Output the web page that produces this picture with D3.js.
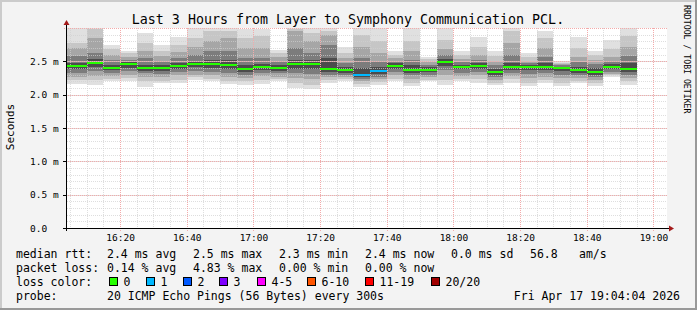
<!DOCTYPE html>
<html>
<head>
<meta charset="utf-8">
<script src="https://cdn.jsdelivr.net/npm/d3@7"></script>
<style>
  body { margin: 0; background: #f3f3f3; }
  svg { display: block; }
  text { font-family: "DejaVu Sans Mono", monospace; fill: #000; }
</style>
</head>
<body>
<div id="chart"></div>
<script>
// chart data
const title = "Last 3 Hours from Layer to Symphony Communication PCL.";
const slotEnd = ["16:05", "16:10", "16:15", "16:20", "16:25", "16:30", "16:35",
  "16:40", "16:45", "16:50", "16:55", "17:00", "17:05", "17:10", "17:15", "17:20",
  "17:25", "17:30", "17:35", "17:40", "17:45", "17:50", "17:55", "18:00", "18:05",
  "18:10", "18:15", "18:20", "18:25", "18:30", "18:35", "18:40", "18:45", "18:50", "18:55"];
const median = [2.43, 2.43, 2.48, 2.405, 2.46, 2.405, 2.405, 2.435, 2.46, 2.46, 2.45,
  2.39, 2.42, 2.405, 2.46, 2.46, 2.39, 2.37, 2.30, 2.36, 2.435, 2.375, 2.375, 2.495,
  2.42, 2.435, 2.345, 2.42, 2.42, 2.42, 2.40, 2.375, 2.345, 2.42, 2.39];
const lossCount = [0, 0, 0, 0, 0, 0, 0, 0, 0, 0, 0, 0, 0, 0, 0, 0, 0, 0, 1, 1, 0, 0,
  0, 0, 0, 0, 0, 0, 0, 0, 0, 0, 0, 0, 0];
// sorted pings of each slot: min, 3rd, 5th, 7th, 9th, 12th, 14th, 16th, 18th, max
const smoke = [
  [2.16, 2.22, 2.27, 2.33, 2.38, 2.47, 2.58, 2.70, 2.78, 3.00],
  [2.16, 2.22, 2.27, 2.33, 2.38, 2.47, 2.58, 2.70, 2.78, 3.00],
  [2.15, 2.22, 2.28, 2.35, 2.42, 2.53, 2.62, 2.85, 2.98, 3.00],
  [2.20, 2.24, 2.28, 2.33, 2.37, 2.45, 2.52, 2.60, 2.68, 2.75],
  [2.20, 2.25, 2.30, 2.35, 2.40, 2.49, 2.52, 2.57, 2.62, 2.66],
  [2.12, 2.20, 2.27, 2.32, 2.36, 2.45, 2.55, 2.66, 2.78, 2.92],
  [2.17, 2.21, 2.26, 2.31, 2.36, 2.45, 2.50, 2.58, 2.66, 2.75],
  [2.17, 2.22, 2.29, 2.34, 2.39, 2.48, 2.55, 2.64, 2.75, 2.87],
  [2.22, 2.26, 2.30, 2.35, 2.41, 2.50, 2.60, 2.72, 2.85, 3.00],
  [2.20, 2.24, 2.29, 2.34, 2.40, 2.52, 2.65, 2.80, 2.95, 3.00],
  [2.16, 2.21, 2.27, 2.33, 2.39, 2.52, 2.65, 2.85, 2.95, 3.00],
  [2.14, 2.20, 2.25, 2.30, 2.34, 2.45, 2.55, 2.70, 2.85, 2.99],
  [2.16, 2.22, 2.28, 2.33, 2.37, 2.46, 2.55, 2.70, 2.88, 2.98],
  [2.20, 2.23, 2.27, 2.32, 2.36, 2.45, 2.50, 2.56, 2.62, 2.67],
  [2.10, 2.17, 2.25, 2.32, 2.38, 2.52, 2.70, 2.95, 2.99, 3.00],
  [2.08, 2.15, 2.24, 2.31, 2.38, 2.52, 2.62, 2.80, 2.92, 3.00],
  [2.18, 2.22, 2.26, 2.30, 2.34, 2.55, 2.75, 2.90, 2.95, 3.00],
  [2.20, 2.23, 2.26, 2.30, 2.33, 2.42, 2.48, 2.55, 2.62, 2.72],
  [2.12, 2.16, 2.20, 2.24, 2.27, 2.40, 2.55, 2.72, 2.90, 3.00],
  [2.14, 2.19, 2.23, 2.27, 2.31, 2.42, 2.50, 2.62, 2.80, 3.00],
  [2.20, 2.24, 2.29, 2.34, 2.39, 2.47, 2.50, 2.55, 2.60, 2.65],
  [2.13, 2.18, 2.24, 2.29, 2.33, 2.44, 2.52, 2.65, 2.80, 3.00],
  [2.20, 2.22, 2.26, 2.30, 2.34, 2.41, 2.45, 2.49, 2.53, 2.57],
  [2.15, 2.22, 2.30, 2.37, 2.43, 2.54, 2.60, 2.68, 2.82, 3.00],
  [2.20, 2.24, 2.28, 2.33, 2.38, 2.45, 2.49, 2.54, 2.60, 2.65],
  [2.17, 2.23, 2.29, 2.34, 2.39, 2.47, 2.52, 2.60, 2.72, 2.87],
  [2.15, 2.18, 2.22, 2.26, 2.30, 2.39, 2.44, 2.50, 2.58, 2.65],
  [2.18, 2.23, 2.28, 2.33, 2.37, 2.48, 2.60, 2.78, 2.95, 3.00],
  [2.13, 2.18, 2.25, 2.31, 2.37, 2.44, 2.47, 2.51, 2.56, 2.62],
  [2.17, 2.22, 2.27, 2.32, 2.37, 2.47, 2.56, 2.70, 2.85, 2.95],
  [2.13, 2.18, 2.25, 2.30, 2.35, 2.42, 2.44, 2.46, 2.48, 2.50],
  [2.17, 2.21, 2.25, 2.29, 2.33, 2.42, 2.49, 2.57, 2.70, 2.87],
  [2.13, 2.17, 2.22, 2.26, 2.30, 2.40, 2.46, 2.52, 2.60, 2.65],
  [2.27, 2.29, 2.31, 2.34, 2.38, 2.46, 2.50, 2.56, 2.68, 2.82],
  [2.15, 2.20, 2.25, 2.30, 2.34, 2.47, 2.58, 2.72, 2.88, 3.00]
];
const yTicks = [0, 0.5, 1.0, 1.5, 2.0, 2.5];
const yTickLabels = ["0.0", "0.5 m", "1.0 m", "1.5 m", "2.0 m", "2.5 m"];
const lossLabels = ["0", "1", "2", "3", "4-5", "6-10", "11-19", "20/20"];
const lossColors = ["#26ff00", "#00b8ff", "#0059ff", "#7e00ff", "#ff00ff", "#ff5500", "#ff0000", "#a10000"];
const smokeShades = ["#e0e0e0", "#c6c6c6", "#a6a6a6", "#7c7c7c", "#4c4c4c"];
const rttStats = [["median rtt:", 16], ["2.4 ms avg", 107], ["2.5 ms max", 193],
  ["2.3 ms min", 279], ["2.4 ms now", 365], ["0.0 ms sd", 451], ["56.8", 530], ["am/s", 579]];
const lossStats = [["packet loss:", 16], ["0.14 % avg", 107], ["4.83 % max", 193],
  ["0.00 % min", 279], ["0.00 % now", 365]];

const w = 697;
const h = 310;
const plot = { left: 67, right: 667, top: 28, bottom: 228 };

const svg = d3.select("#chart").append("svg").attr("width", w).attr("height", h);

// frame
svg.append("rect").attr("width", w).attr("height", h).attr("fill", "#f3f3f3");
svg.append("path").attr("d", `M0,${h}V0H${w}`).attr("fill", "none")
  .attr("stroke", "#cbcbcb").attr("stroke-width", 4);
svg.append("path").attr("d", `M0,${h}H${w}V0`).attr("fill", "none")
  .attr("stroke", "#999999").attr("stroke-width", 4);

// scales
const parseTime = d3.timeParse("%Y-%m-%d %H:%M:%S");
const start = parseTime("2026-04-17 16:04:04");
const end = parseTime("2026-04-17 19:04:04");
const x = d3.scaleTime().domain([start, end]).range([plot.left, plot.right]);
const y = d3.scaleLinear().domain([0, 3]).range([plot.bottom, plot.top]);

const slots = slotEnd.map((t, i) => {
  const t1 = parseTime("2026-04-17 " + t + ":00");
  return { t0: d3.timeMinute.offset(t1, -5), t1: t1, med: median[i], loss: lossCount[i], p: smoke[i] };
});

function lossIndex(n) {
  if (n <= 3) return n;
  if (n <= 5) return 4;
  if (n <= 10) return 5;
  if (n <= 19) return 6;
  return 7;
}

svg.append("rect")
  .attr("x", plot.left).attr("y", plot.top)
  .attr("width", plot.right - plot.left).attr("height", plot.bottom - plot.top)
  .attr("fill", "#ffffff");

svg.append("clipPath").attr("id", "clip").append("rect")
  .attr("x", plot.left).attr("y", plot.top)
  .attr("width", plot.right - plot.left).attr("height", plot.bottom - plot.top);

// smoke bands, outer pair first
const smokeG = svg.append("g").attr("clip-path", "url(#clip)").attr("shape-rendering", "crispEdges");
smokeShades.forEach((shade, k) => {
  smokeG.append("g").selectAll("rect")
    .data(slots)
    .join("rect")
    .attr("x", d => x(d.t0))
    .attr("width", d => x(d.t1) - x(d.t0))
    .attr("y", d => y(d.p[9 - k]))
    .attr("height", d => y(d.p[k]) - y(d.p[9 - k]))
    .attr("fill", shade);
});

// grid
const grid = svg.append("g").attr("shape-rendering", "crispEdges");
const minorX = d3.timeMinute.every(5).range(start, end);
const majorX = d3.timeMinute.every(20).range(start, end);
const minorY = d3.range(1, 30).map(v => v / 10);
const majorY = [0.5, 1.0, 1.5, 2.0, 2.5, 3.0];

grid.selectAll(".minx").data(minorX).join("line")
  .attr("x1", d => Math.round(x(d)) + 0.5).attr("x2", d => Math.round(x(d)) + 0.5)
  .attr("y1", plot.top).attr("y2", plot.bottom)
  .attr("stroke", "#d0d0d0").attr("stroke-opacity", 0.7).attr("stroke-dasharray", "1,1");
grid.selectAll(".miny").data(minorY).join("line")
  .attr("x1", plot.left).attr("x2", plot.right)
  .attr("y1", d => Math.round(y(d)) + 0.5).attr("y2", d => Math.round(y(d)) + 0.5)
  .attr("stroke", "#d0d0d0").attr("stroke-opacity", 0.7).attr("stroke-dasharray", "1,1");
grid.selectAll(".majx").data(majorX).join("line")
  .attr("x1", d => Math.round(x(d)) + 0.5).attr("x2", d => Math.round(x(d)) + 0.5)
  .attr("y1", plot.top).attr("y2", plot.bottom + 3)
  .attr("stroke", "#f3aaaa").attr("stroke-dasharray", "1,1");
grid.selectAll(".majy").data(majorY).join("line")
  .attr("x1", plot.left - 3).attr("x2", plot.right)
  .attr("y1", d => Math.round(y(d)) + 0.5).attr("y2", d => Math.round(y(d)) + 0.5)
  .attr("stroke", "#f3aaaa").attr("stroke-dasharray", "1,1");

// median bars coloured by loss
svg.append("g").attr("clip-path", "url(#clip)").attr("shape-rendering", "crispEdges")
  .selectAll("rect")
  .data(slots)
  .join("rect")
  .attr("x", d => x(d.t0))
  .attr("width", d => x(d.t1) - x(d.t0))
  .attr("y", d => Math.round(y(d.med)) - 1)
  .attr("height", 2)
  .attr("fill", d => lossColors[lossIndex(d.loss)]);

// axes
const xAxis = d3.axisBottom(x)
  .tickValues(majorX)
  .tickFormat(d3.timeFormat("%H:%M"))
  .tickSize(0)
  .tickPadding(6);
const gx = svg.append("g").attr("transform", `translate(0,${plot.bottom})`).call(xAxis);
gx.select(".domain").remove();
gx.selectAll("text").style("font-size", "9.5px").attr("fill", "#000");

const yAxis = d3.axisLeft(y).tickValues(yTicks).tickFormat((d, i) => yTickLabels[i]).tickSize(0);
const gy = svg.append("g").call(yAxis);
gy.select(".domain").remove();
gy.selectAll("text")
  .attr("x", 30).attr("dy", "0.35em")
  .attr("text-anchor", "start")
  .style("font-size", "9.5px").attr("fill", "#000");

svg.append("g").attr("shape-rendering", "crispEdges").selectAll("line")
  .data(yTicks).join("line")
  .attr("x1", plot.left - 4).attr("x2", plot.left)
  .attr("y1", d => Math.round(y(d)) + 0.5).attr("y2", d => Math.round(y(d)) + 0.5)
  .attr("stroke", "#000");

svg.append("line").attr("x1", plot.left - 3).attr("x2", plot.right + 3)
  .attr("y1", plot.bottom + 0.5).attr("y2", plot.bottom + 0.5)
  .attr("stroke", "#000").attr("shape-rendering", "crispEdges");
svg.append("line").attr("x1", plot.left - 0.5).attr("x2", plot.left - 0.5)
  .attr("y1", plot.bottom + 3).attr("y2", plot.top - 3)
  .attr("stroke", "#000").attr("shape-rendering", "crispEdges");
svg.append("path")
  .attr("d", `M${plot.right + 2},${plot.bottom - 2.5}L${plot.right + 7},${plot.bottom + 0.5}L${plot.right + 2},${plot.bottom + 3.5}Z`)
  .attr("fill", "#a41a1a");
svg.append("path")
  .attr("d", `M${plot.left - 3.5},${plot.top - 3}L${plot.left - 0.5},${plot.top - 8}L${plot.left + 2.5},${plot.top - 3}Z`)
  .attr("fill", "#a41a1a");

// titles
svg.append("text").attr("x", 348).attr("y", 24).attr("text-anchor", "middle")
  .style("font-size", "13.3px").text(title);
svg.append("text").attr("transform", "translate(14,127) rotate(-90)").attr("text-anchor", "middle")
  .style("font-size", "11px").text("Seconds");
svg.append("text").attr("transform", "translate(684,5) rotate(90)")
  .style("font-size", "8.2px").attr("fill", "#b4b4b4").text("RRDTOOL / TOBI OETIKER");

// legend
const legend = svg.append("g").style("font-size", "11.5px").attr("xml:space", "preserve");
legend.selectAll(".rtt").data(rttStats).join("text")
  .attr("x", d => d[1]).attr("y", 258).text(d => d[0]);
legend.selectAll(".loss").data(lossStats).join("text")
  .attr("x", d => d[1]).attr("y", 272).text(d => d[0]);
legend.append("text").attr("x", 16).attr("y", 286).text("loss color:");
const boxX = [109, 146, 183, 219, 257, 307, 365, 431];
legend.selectAll("rect").data(lossLabels).join("rect")
  .attr("x", (d, i) => boxX[i] + 0.5).attr("y", 277.5)
  .attr("width", 8).attr("height", 8)
  .attr("fill", (d, i) => lossColors[i]).attr("stroke", "#000")
  .attr("shape-rendering", "crispEdges");
legend.selectAll(".lbl").data(lossLabels).join("text")
  .attr("x", (d, i) => boxX[i] + 14.5).attr("y", 286).text(d => d);
legend.append("text").attr("x", 16).attr("y", 300).text("probe:");
legend.append("text").attr("x", 107).attr("y", 300).text("20 ICMP Echo Pings (56 Bytes) every 300s");
legend.append("text").attr("x", 680).attr("y", 300).attr("text-anchor", "end").text("Fri Apr 17 19:04:04 2026");
</script>
</body>
</html>
